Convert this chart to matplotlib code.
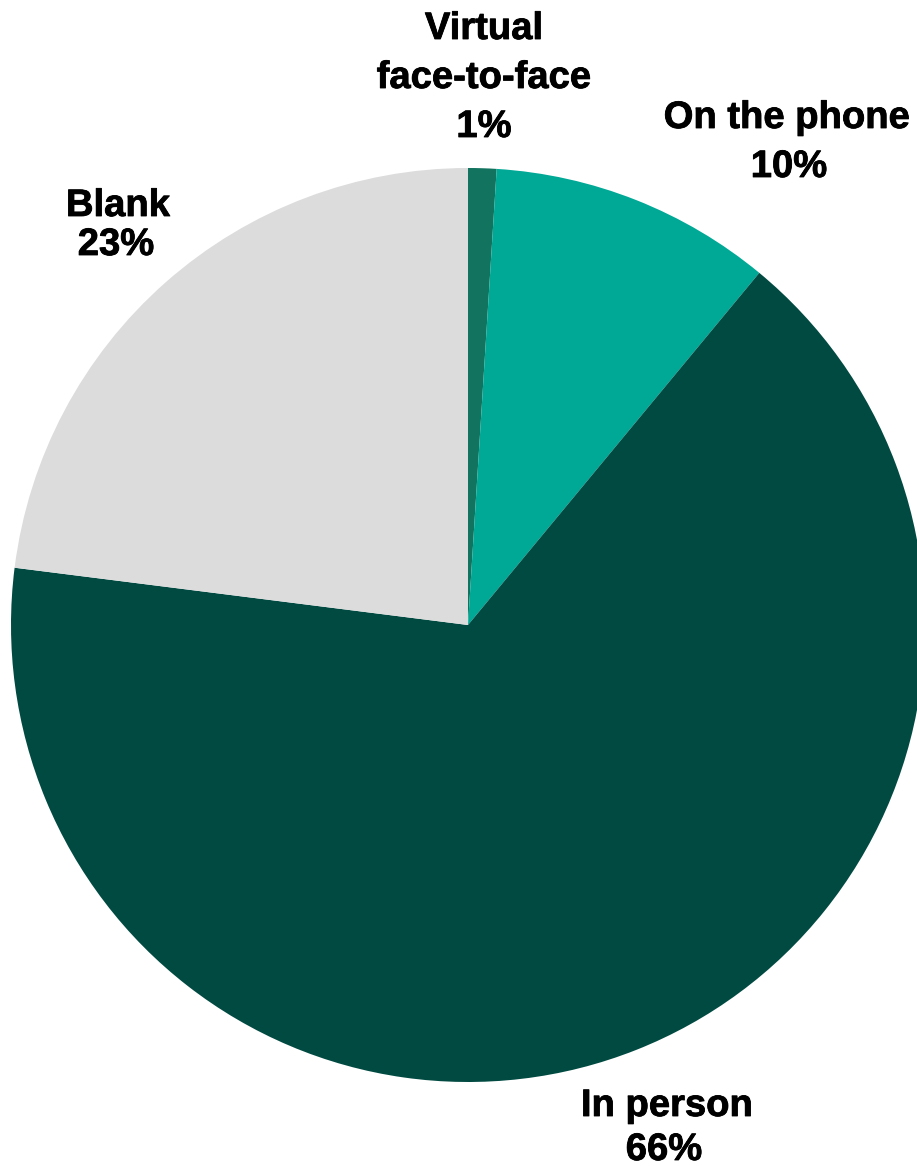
import matplotlib
matplotlib.use("Agg")
import matplotlib.pyplot as plt
import matplotlib.patheffects as pe

categories = ["Virtual\nface-to-face", "On the phone", "In person", "Blank"]
values = [1, 10, 66, 23]
colors = ["#12735E", "#00A896", "#004A42", "#DCDCDC"]

W, H = 917, 1166
fig = plt.figure(figsize=(W / 100, H / 100), dpi=100)
ax = fig.add_axes([0, 0, 1, 1])

cx, cy, r = 468, H - 625, 457
ax.pie(values, colors=colors, startangle=90, counterclock=False,
       center=(cx, cy), radius=r, wedgeprops=dict(linewidth=0))
ax.set_xlim(0, W)
ax.set_ylim(0, H)
ax.axis("off")

# label line positions (center x, baseline y from top) per category
name_pos = [(484, [39, 88]), (787, [128]), (667, [1116]), (118, [216])]
pct_pos = [(484, 137), (789, 177), (664, 1160), (116, 255)]

fs = 27.5
effects = [pe.withStroke(linewidth=0.6, foreground="black")]
for cat, v, (nx, nys), (px, py) in zip(categories, values, name_pos, pct_pos):
    for line, y in zip(cat.split("\n"), nys):
        ax.text(nx, H - y, line, ha="center", va="baseline", fontsize=fs,
                fontweight="bold", family="Liberation Sans", color="black",
                path_effects=effects)
    ax.text(px, H - py, f"{v}%", ha="center", va="baseline", fontsize=fs,
            fontweight="bold", family="Liberation Sans", color="black",
            path_effects=effects)

fig.savefig("out.png", dpi=100)
